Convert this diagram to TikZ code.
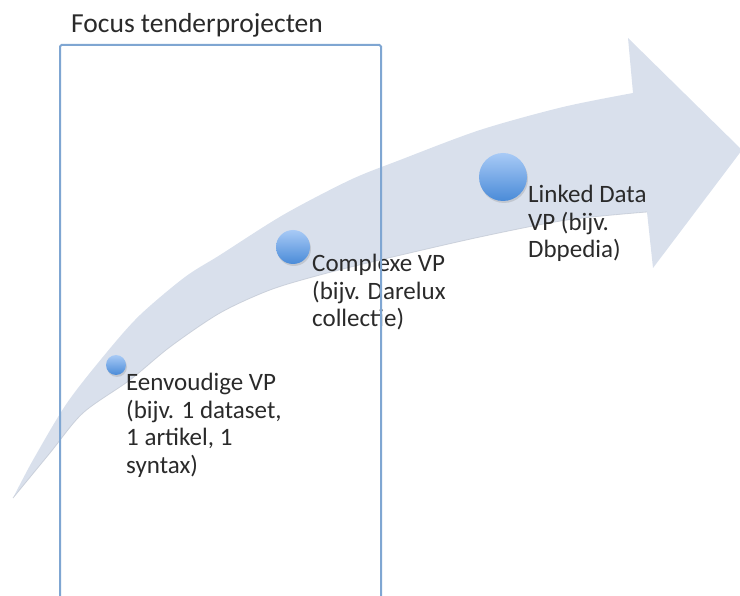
\documentclass[tikz,border=0pt]{standalone}
\usepackage{fontspec}
\setmainfont{Carlito}
\usetikzlibrary{shadows}
\definecolor{arrowfill}{HTML}{D9E0EC}
\definecolor{arrowedge}{HTML}{B9C0CC}
\definecolor{framec}{HTML}{7FA6D2}
\definecolor{dottop}{HTML}{A8CAF6}
\definecolor{dotbot}{HTML}{4A8BD8}
\definecolor{txt}{HTML}{2A2A2A}
\begin{document}
\begin{tikzpicture}[x=1pt,y=-1pt,
  lbl/.style={font=\fontsize{25}{27.5}\selectfont, text=txt, align=left, inner sep=0pt, anchor=base west},
  ttl/.style={font=\fontsize{27.5}{29}\selectfont, text=txt, inner sep=0pt, anchor=base west},
  dot/.style={circle, inner sep=0pt, top color=dottop, bottom color=dotbot, draw=none,
    drop shadow={opacity=0.25, shadow xshift=1pt, shadow yshift=-2pt}},
  frame/.style={draw=framec, line width=2pt, rounded corners=1.5pt}
]
\useasboundingbox (0,0) rectangle (740,596);
\clip (0,0) rectangle (740,596);
% curved arrow
\fill[arrowfill] plot[smooth, tension=0.5] coordinates {(13,498) (33,460) (67,403) (107,352) (140,315) (185,277) (220,255) (283,215) (350,180) (400,160) (480,130) (563,107) (633,93)}
  -- (628,38) -- (742,150) -- (653,268) -- (647,212)
  -- plot[smooth, tension=0.5] coordinates {(647,212) (567,220) (480,237) (380,260) (320,275) (270,290) (220,313) (170,347) (130,380) (83,413) (50,453) (13,498)} -- cycle;
\draw[arrowedge, line width=0.8pt, opacity=0.6] plot[smooth, tension=0.5] coordinates {(647,212) (567,220) (480,237) (380,260) (320,275) (270,290) (220,313) (170,347) (130,380) (83,413) (50,453) (13,498)};
% dots
\node[dot, minimum size=20pt] (d1) at (116,365) {};
\node[dot, minimum size=34pt] (d2) at (293,247) {};
\node[dot, minimum size=48pt] (d3) at (503,177) {};
% labels (base anchor = baseline of last line)
\node[lbl] (t1) at (126,473) {Eenvoudige VP\\(bijv. 1 dataset,\\1 artikel, 1\\syntax)};
\node[lbl] (t2) at (312,327) {Complexe VP\\(bijv. Darelux\\collectie)};
\node[lbl] (t3) at (528,258) {Linked Data\\VP (bijv.\\Dbpedia)};
\node[ttl] (title) at (71,33) {Focus tenderprojecten};
% focus frame
\draw[frame] (60,45) rectangle (381,640);
\end{tikzpicture}
\end{document}
